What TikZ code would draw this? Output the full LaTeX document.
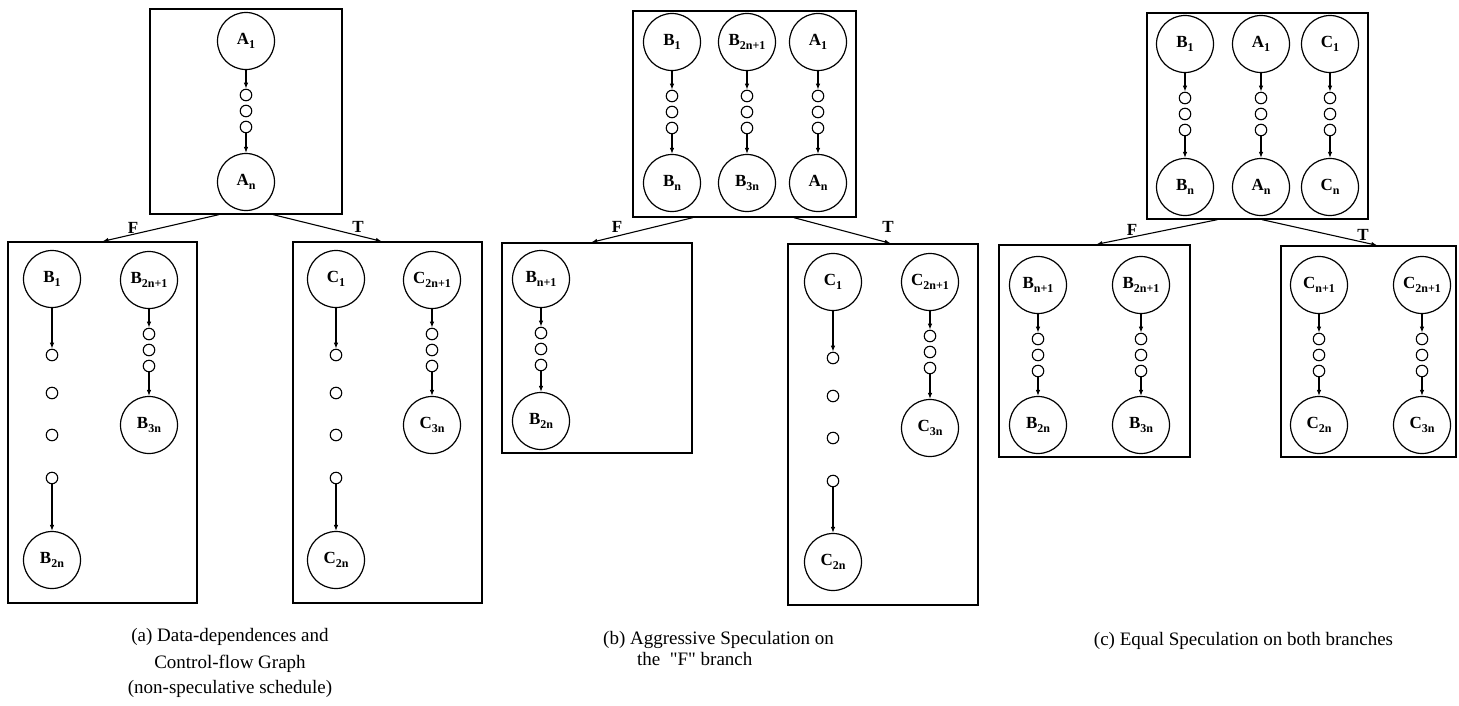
\documentclass[tikz,border=0pt]{standalone}
\usepackage{fontspec}
\setmainfont{Liberation Serif}
\usetikzlibrary{arrows.meta,calc}
\newcommand{\nlab}[2]{#1\raisebox{-3.5pt}{\fontsize{12}{12}\selectfont #2}}
% short chain: prefix, x, ytop, ybot, top label, bottom label
\newcommand{\mkcol}[6]{%
  \node[big] (#1T) at (#2,#3) {#5};
  \node[sm] (#1s1) at (#2,#3+54) {};
  \node[sm] (#1s2) at (#2,#3+70) {};
  \node[sm] (#1s3) at (#2,#3+86) {};
  \node[big] (#1B) at (#2,#4) {#6};
  \draw[arr] (#1T) -- (#1s1);
  \draw[arr] (#1s3) -- (#1B);}
% long chain
\newcommand{\mklong}[6]{%
  \node[big] (#1T) at (#2,#3) {#5};
  \node[sm] (#1s1) at (#2,#3+76) {};
  \node[sm] (#1s2) at (#2,#3+114) {};
  \node[sm] (#1s3) at (#2,#3+156) {};
  \node[sm] (#1s4) at (#2,#3+199) {};
  \node[big] (#1B) at (#2,#4) {#6};
  \draw[arr] (#1T) -- (#1s1);
  \draw[arr] (#1s4) -- (#1B);}
\begin{document}
\begin{tikzpicture}[x=1pt,y=-1pt,
  big/.style={circle,draw,line width=1.2pt,minimum size=57pt,inner sep=0pt,font=\fontsize{17}{17}\selectfont\bfseries},
  sm/.style={circle,draw,line width=1.1pt,minimum size=11.5pt,inner sep=0pt},
  box/.style={draw,line width=1.25pt,inner sep=0pt},
  arr/.style={-{Latex[length=6pt,width=4.5pt]},line width=1.1pt},
  brlab/.style={font=\fontsize{17}{17}\selectfont\bfseries,inner sep=0pt},
  captext/.style={font=\fontsize{19}{21}\selectfont,inner sep=0pt}]
\useasboundingbox (0,0) rectangle (1459,705);
% ---------------- panel (a)
\node[box,minimum width=192pt,minimum height=205pt] (ta) at (246,111.5) {};
\node[box,minimum width=189pt,minimum height=361pt] (al) at (102.5,422.5) {};
\node[box,minimum width=189pt,minimum height=361pt] (ar) at (387.5,422.5) {};
\mkcol{aA}{246}{41}{182}{\nlab{A}{1}}{\nlab{A}{n}}
\mklong{aB}{52}{279}{560}{\nlab{B}{1}}{\nlab{B}{2n}}
\mkcol{aBB}{149}{280}{425}{\nlab{B}{2n+1}}{\nlab{B}{3n}}
\mklong{aC}{336}{279}{560}{\nlab{C}{1}}{\nlab{C}{2n}}
\mkcol{aCC}{432}{280}{425}{\nlab{C}{2n+1}}{\nlab{C}{3n}}
\draw[arr] ($(ta.south west)!0.36!(ta.south east)$) -- ($(al.north west)!0.5!(al.north east)$);
\draw[arr] ($(ta.south west)!0.64!(ta.south east)$) -- ($(ar.north west)!0.47!(ar.north east)$);
\node[brlab] (aF) at (133,228) {F};
\node[brlab] (aT) at (358,227) {T};
\node[captext,align=center] (capa) at (230,663) {(a) Data-dependences and\\[6pt]Control-flow Graph\\[4pt](non-speculative schedule)};
% ---------------- panel (b)
\node[box,minimum width=223pt,minimum height=206pt] (tb) at (744.5,114) {};
\node[box,minimum width=190pt,minimum height=210pt] (bl) at (597,348) {};
\node[box,minimum width=190pt,minimum height=361pt] (brr) at (883,424.5) {};
\mkcol{bB}{672}{42}{183}{\nlab{B}{1}}{\nlab{B}{n}}
\mkcol{bBB}{747}{42}{183}{\nlab{B}{2n+1}}{\nlab{B}{3n}}
\mkcol{bA}{818}{42}{183}{\nlab{A}{1}}{\nlab{A}{n}}
\mkcol{bL}{541}{279}{421}{\nlab{B}{n+1}}{\nlab{B}{2n}}
\mklong{bC}{833}{282}{562}{\nlab{C}{1}}{\nlab{C}{2n}}
\mkcol{bCC}{930}{282}{428}{\nlab{C}{2n+1}}{\nlab{C}{3n}}
\draw[arr] ($(tb.south west)!0.27!(tb.south east)$) -- ($(bl.north west)!0.47!(bl.north east)$);
\draw[arr] ($(tb.south west)!0.72!(tb.south east)$) -- ($(brr.north west)!0.54!(brr.north east)$);
\node[brlab] (bF) at (617,227) {F};
\node[brlab] (bT) at (888,227) {T};
\node[captext,align=left,anchor=west] (capb) at (603,648.5) {(b) Aggressive Speculation on\\\hspace*{34pt}the\ \ {\addfontfeatures{Ligatures=TeXOff}"F"} branch};
% ---------------- panel (c)
\node[box,minimum width=221pt,minimum height=206pt] (tc) at (1257.5,116) {};
\node[box,minimum width=191pt,minimum height=212pt] (cl) at (1094.5,351) {};
\node[box,minimum width=175pt,minimum height=211pt] (cr) at (1368.5,351.5) {};
\mkcol{cB}{1185}{44}{187}{\nlab{B}{1}}{\nlab{B}{n}}
\mkcol{cA}{1261}{44}{187}{\nlab{A}{1}}{\nlab{A}{n}}
\mkcol{cC}{1330}{44}{187}{\nlab{C}{1}}{\nlab{C}{n}}
\mkcol{cL}{1038}{285}{425}{\nlab{B}{n+1}}{\nlab{B}{2n}}
\mkcol{cLL}{1141}{285}{425}{\nlab{B}{2n+1}}{\nlab{B}{3n}}
\mkcol{cR}{1319}{285}{425}{\nlab{C}{n+1}}{\nlab{C}{2n}}
\mkcol{cRR}{1422}{285}{425}{\nlab{C}{2n+1}}{\nlab{C}{3n}}
\draw[arr] ($(tc.south west)!0.32!(tc.south east)$) -- ($(cl.north west)!0.51!(cl.north east)$);
\draw[arr] ($(tc.south west)!0.52!(tc.south east)$) -- ($(cr.north west)!0.55!(cr.north east)$);
\node[brlab] (cF) at (1132,230) {F};
\node[brlab] (cT) at (1363,235) {T};
\node[captext] (capc) at (1243.5,641) {(c) Equal Speculation on both branches};
\end{tikzpicture}
\end{document}
